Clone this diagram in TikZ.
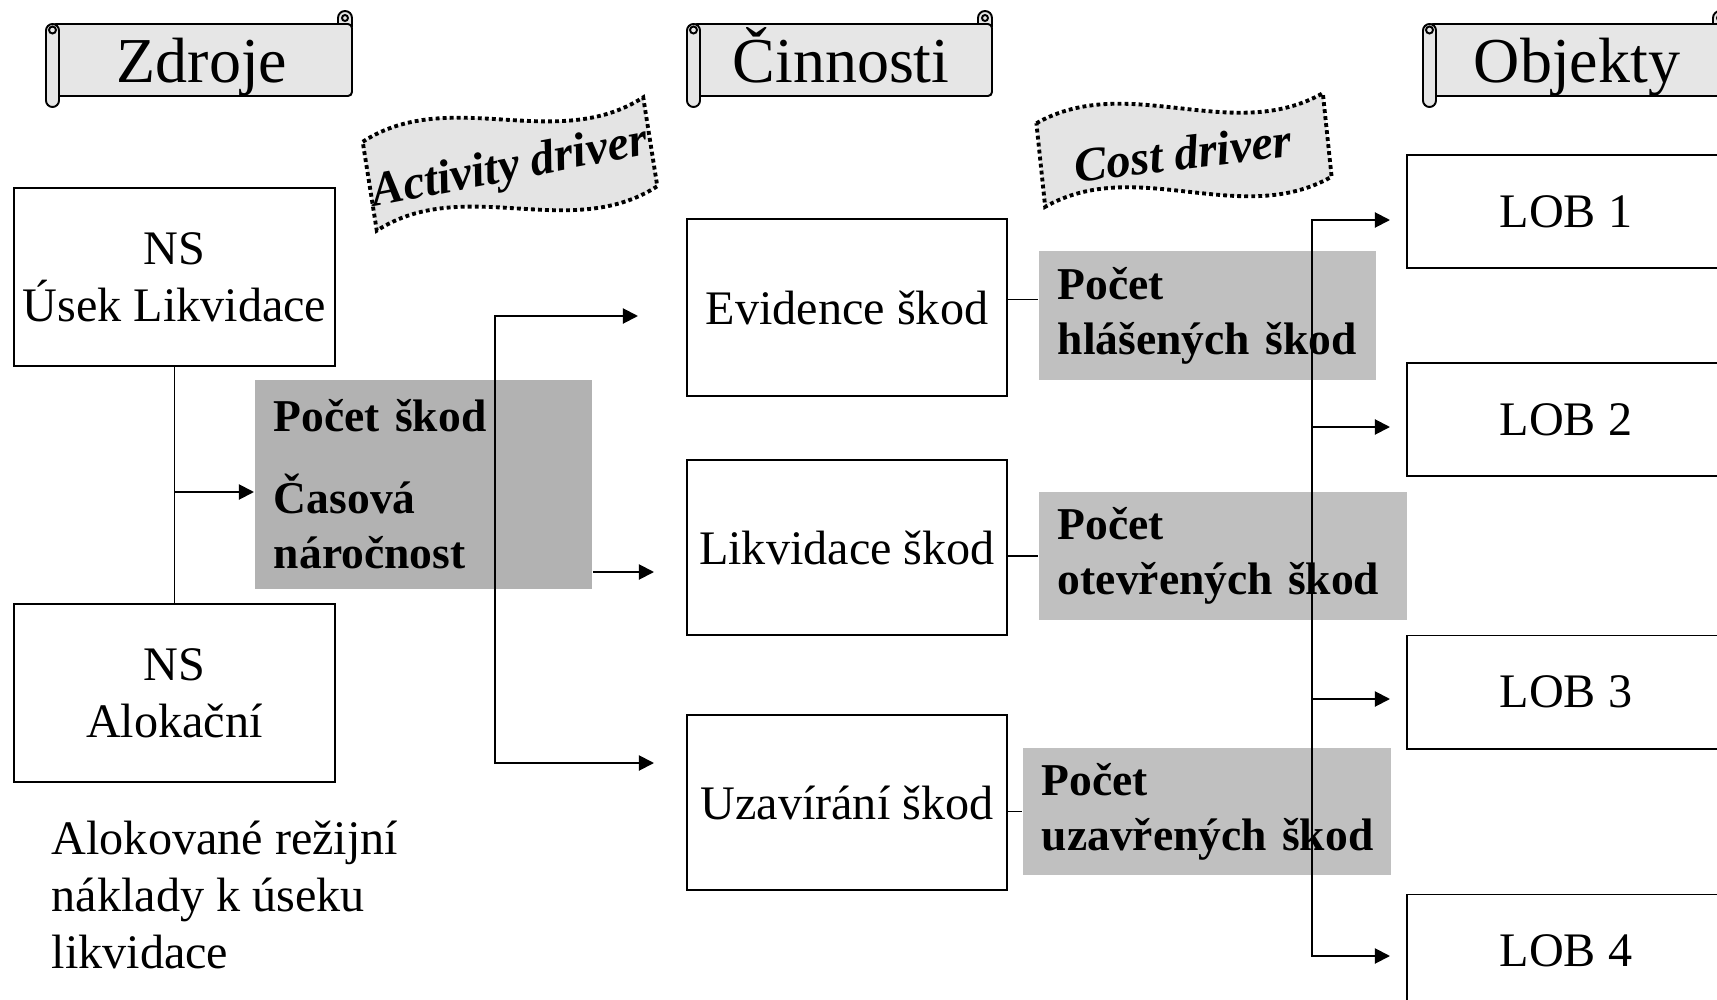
\documentclass[tikz,border=0pt]{standalone}
\usepackage{fontspec}
\setmainfont{Liberation Serif}
\usepackage{tikz}
\usetikzlibrary{arrows.meta, calc}
\definecolor{scrollFill}{RGB}{230, 230, 230}
\definecolor{waveFill}{RGB}{228, 228, 228}
\definecolor{actDrvFill}{RGB}{178, 178, 178}
\definecolor{costDrvFill}{RGB}{192, 192, 192}
\tikzset{
    plain_box/.style={
        draw,
        line width=0.55pt,
        fill=white,
        inner sep=0pt,
        minimum width=3.21cm,
        minimum height=1.77cm,
        align=center,
        font=\fontsize{13.7}{16.2}\selectfont
    },
    lob_box/.style={
        plain_box,
        minimum width=3.18cm,
        minimum height=1.13cm
    },
    drv_box/.style={
        fill=costDrvFill,
        inner xsep=0.19cm,
        inner ysep=0pt,
        align=left,
        font=\bfseries\fontsize{12.95}{15.6}\selectfont
    },
    flow_edge/.style={
        line width=0.55pt,
        -{Triangle[length=4.3pt, width=4.3pt]}
    },
    fork_edge/.style={
        line width=0.55pt,
        {Triangle[length=4.3pt, width=4.3pt]}-{Triangle[length=4.3pt, width=4.3pt]}
    },
    link_edge/.style={
        line width=0.55pt
    },
    scroll_line/.style={
        draw,
        fill=scrollFill,
        line width=0.55pt
    },
    scroll_title/.style={
        anchor=base,
        font=\fontsize{18.2}{22}\selectfont
    },
    wave_shape/.style={
        draw,
        fill=waveFill,
        line width=1.1pt,
        dash pattern=on 1.1pt off 0.9pt
    },
    wave_title/.style={
        font=\bfseries\itshape\fontsize{13.7}{16}\selectfont
    }
}
% L, T, R, B of the scroll (px, y down)
\newcommand{\scrollshape}[4]{%
    \filldraw[scroll_line] (#3-14,#2+2) -- (#3-14,#2-6) arc[start angle=180, end angle=0, radius=0.07cm] -- (#3,#2+2) -- cycle;
    \draw[line width=0.55pt] (#3-7,#2-6) circle[radius=0.03cm];
    \filldraw[scroll_line, rounded corners=0.04cm] (#1+6,#2) rectangle (#3,#4);
    \filldraw[scroll_line, rounded corners=0.065cm] (#1,#2) rectangle (#1+13,#4+11);
    \draw[line width=0.55pt] (#1+6.5,#2+6) circle[radius=0.035cm];
}

\begin{document}
\begin{tikzpicture}[x=0.01cm, y=-0.01cm]
    \useasboundingbox (0,0) rectangle (1717,1000);

    % column titles
    \scrollshape{46}{24}{352}{96}
    \node[scroll_title] (t_res) at (202,83) {Zdroje};
    \scrollshape{687}{24}{992}{96}
    \node[scroll_title] (t_act) at (841,83) {Činnosti};
    \scrollshape{1423}{24}{1727}{96}
    \node[scroll_title] (t_obj) at (1577,83) {Objekty};

    % driver banners
    \begin{scope}[shift={(510,164)}, rotate=9]
        \path[wave_shape] (-142,-45) .. controls (-47,-87) and (47,-3) .. (142,-45)
            -- (142,45) .. controls (47,87) and (-47,3) .. (-142,45) -- cycle;
    \end{scope}
    \node[wave_title, rotate=11] (w_act) at (510,169) {Activity driver};
    \begin{scope}[shift={(1184,150)}, rotate=6]
        \path[wave_shape] (-144,-42) .. controls (-48,-84) and (48,0) .. (144,-42)
            -- (144,42) .. controls (48,84) and (-48,0) .. (-144,42) -- cycle;
    \end{scope}
    \node[wave_title, rotate=7] (w_cost) at (1183,153) {Cost driver};

    % resources
    \node[plain_box] (ns1) at (174.5,277) {NS\\Úsek Likvidace};
    \node[plain_box] (ns2) at (174.5,693) {NS\\Alokační};
    \node[anchor=west, align=left, inner sep=0pt, font=\fontsize{13.7}{16.2}\selectfont] (alok) at (51,895)
        {Alokované režijní\\náklady k úseku\\likvidace};
    \node[drv_box, fill=actDrvFill, text width=2.99cm, minimum height=2.09cm] (ad) at (423.5,484.5)
        {Počet~škod\\[0.27cm]Časová\\náročnost};

    % activities
    \node[plain_box, minimum width=3.2cm] (ev) at (847,307.5) {Evidence škod};
    \node[plain_box, minimum width=3.2cm, minimum height=1.75cm] (lik) at (847,547.5) {Likvidace škod};
    \node[plain_box, minimum width=3.2cm, minimum height=1.75cm] (uz) at (847,802.5) {Uzavírání škod};

    \node[drv_box, text width=2.99cm, minimum height=1.29cm] (c1) at (1207.5,315.5) {Počet\\hlášených~škod};
    \node[drv_box, text width=3.30cm, minimum height=1.28cm] (c2) at (1223,556) {Počet\\otevřených~škod};
    \node[drv_box, text width=3.30cm, minimum height=1.27cm] (c3) at (1207,811.5) {Počet\\uzavřených~škod};

    % objects
    \node[lob_box] (lob1) at (1566,211.5) {LOB 1};
    \node[lob_box] (lob2) at (1566,419.5) {LOB 2};
    \node[lob_box] (lob3) at (1566,692) {LOB 3};
    \node[lob_box] (lob4) at (1566,951) {LOB 4};

    % free ends of the arrows
    \coordinate (ta0) at (254,492);
    \coordinate (sa1) at (495,316);
    \coordinate (sa3) at (495,763);
    \coordinate (ta1) at (638,316);
    \coordinate (ta2) at (654,572);
    \coordinate (ta3) at (654,763);
    \coordinate (sb1) at (1312,220);
    \coordinate (sb4) at (1312,956);
    \coordinate (tb1) at (1390,220);
    \coordinate (tb2) at (1390,427);
    \coordinate (tb3) at (1390,699);
    \coordinate (tb4) at (1390,956);

    \draw[link_edge] (ns1.south) -- (ns2.north);
    \draw[flow_edge] (ns1.south |- ta0) -- (ta0);
    \draw[fork_edge] (ta1) -- (sa1) -- (sa3) -- (ta3);
    \draw[flow_edge] (ad.east |- ta2) -- (ta2);

    \draw[link_edge] ([yshift=0.08cm]ev.east) -- ([yshift=0.08cm]ev.east -| c1.west);
    \draw[link_edge] (c2.west -| lik.east) -- (c2.west);
    \draw[link_edge] (c3.west -| uz.east) -- (c3.west);

    \draw[fork_edge] (tb1) -- (sb1) -- (sb4) -- (tb4);
    \draw[flow_edge] (sb1 |- tb2) -- (tb2);
    \draw[flow_edge] (sb1 |- tb3) -- (tb3);
\end{tikzpicture}
\end{document}
